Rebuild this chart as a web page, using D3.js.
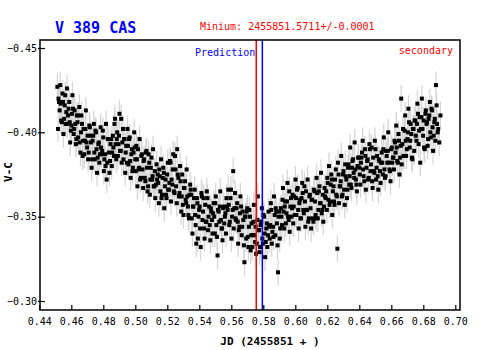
<!DOCTYPE html>
<html>
<head>
<meta charset="utf-8">
<script src="https://cdn.jsdelivr.net/npm/d3@7"></script>
<style>
  body { margin: 0; background: #fff; }
  svg { display: block; font-family: "DejaVu Sans Mono", monospace; }
</style>
</head>
<body>
<svg width="500" height="350"></svg>
<script>
// observations: JD - 2455851 and V-C
const jd = [
  0.4513,0.4520,0.4527,0.4534,0.4541,0.4548,0.4555,0.4562,0.4569,0.4576,
  0.4583,0.4590,0.4597,0.4604,0.4611,0.4618,0.4625,0.4632,0.4639,0.4646,
  0.4653,0.4660,0.4667,0.4674,0.4681,0.4688,0.4695,0.4702,0.4709,0.4716,
  0.4723,0.4730,0.4737,0.4744,0.4751,0.4758,0.4765,0.4772,0.4779,0.4786,
  0.4793,0.4800,0.4807,0.4814,0.4821,0.4828,0.4835,0.4842,0.4849,0.4856,
  0.4863,0.4870,0.4877,0.4884,0.4891,0.4898,0.4905,0.4912,0.4919,0.4926,
  0.4933,0.4940,0.4947,0.4954,0.4961,0.4968,0.4975,0.4982,0.4989,0.4996,
  0.5003,0.5010,0.5017,0.5024,0.5031,0.5038,0.5045,0.5052,0.5059,0.5066,
  0.5073,0.5080,0.5087,0.5094,0.5101,0.5108,0.5115,0.5122,0.5129,0.5136,
  0.5143,0.5150,0.5157,0.5164,0.5171,0.5178,0.5185,0.5192,0.5199,0.5206,
  0.5213,0.5220,0.5227,0.5234,0.5241,0.5248,0.5255,0.5262,0.5269,0.5276,
  0.5283,0.5290,0.5297,0.5304,0.5311,0.5318,0.5325,0.5332,0.5339,0.5346,
  0.5353,0.5360,0.5367,0.5374,0.5381,0.5388,0.5395,0.5402,0.5409,0.5416,
  0.5423,0.5430,0.5437,0.5444,0.5451,0.5458,0.5465,0.5472,0.5479,0.5486,
  0.5493,0.5500,0.5507,0.5514,0.5521,0.5528,0.5535,0.5542,0.5549,0.5556,
  0.5563,0.5570,0.5577,0.5584,0.5591,0.5598,0.5605,0.5612,0.5619,0.5626,
  0.5633,0.5640,0.5647,0.5654,0.5661,0.5668,0.5675,0.5682,0.5689,0.5696,
  0.5703,0.5710,0.5717,0.5724,0.5731,0.5738,0.5745,0.5752,0.5759,0.5766,
  0.5773,0.5780,0.5787,0.5794,0.5801,0.5808,0.5815,0.5822,0.5829,0.5836,
  0.5843,0.5850,0.5857,0.5864,0.5871,0.5878,0.5885,0.5892,0.5899,0.5906,
  0.5913,0.5920,0.5927,0.5934,0.5941,0.5948,0.5955,0.5962,0.5969,0.5976,
  0.5983,0.5990,0.5997,0.6004,0.6011,0.6018,0.6025,0.6032,0.6039,0.6046,
  0.6053,0.6060,0.6067,0.6074,0.6081,0.6088,0.6095,0.6102,0.6109,0.6116,
  0.6123,0.6130,0.6137,0.6144,0.6151,0.6158,0.6165,0.6172,0.6179,0.6186,
  0.6193,0.6200,0.6207,0.6214,0.6221,0.6228,0.6235,0.6242,0.6249,0.6256,
  0.6263,0.6270,0.6277,0.6284,0.6291,0.6298,0.6305,0.6312,0.6319,0.6326,
  0.6333,0.6340,0.6347,0.6354,0.6361,0.6368,0.6375,0.6382,0.6389,0.6396,
  0.6403,0.6410,0.6417,0.6424,0.6431,0.6438,0.6445,0.6452,0.6459,0.6466,
  0.6473,0.6480,0.6487,0.6494,0.6501,0.6508,0.6515,0.6522,0.6529,0.6536,
  0.6543,0.6550,0.6557,0.6564,0.6571,0.6578,0.6585,0.6592,0.6599,0.6606,
  0.6613,0.6620,0.6627,0.6634,0.6641,0.6648,0.6655,0.6662,0.6669,0.6676,
  0.6683,0.6690,0.6697,0.6704,0.6711,0.6718,0.6725,0.6732,0.6739,0.6746,
  0.6753,0.6760,0.6767,0.6774,0.6781,0.6788,0.6795,0.6802,0.6809,0.6816,
  0.6823,0.6830,0.6837,0.6844,0.6851,0.6858,0.6865,0.6872,0.6879,0.6886,
  0.6893,0.6900,0.6907
];
const vc = [
  -0.427,-0.420,-0.413,-0.417,-0.406,-0.418,-0.408,-0.422,-0.412,-0.405,
  -0.414,-0.406,-0.401,-0.411,-0.414,-0.402,-0.405,-0.396,-0.406,-0.410,
  -0.394,-0.400,-0.405,-0.395,-0.387,-0.402,-0.394,-0.398,-0.388,-0.403,
  -0.394,-0.384,-0.398,-0.388,-0.401,-0.390,-0.385,-0.394,-0.387,-0.391,
  -0.389,-0.397,-0.384,-0.380,-0.372,-0.396,-0.388,-0.383,-0.396,-0.388,
  -0.391,-0.405,-0.393,-0.396,-0.386,-0.398,-0.389,-0.408,-0.394,-0.384,
  -0.396,-0.388,-0.382,-0.392,-0.396,-0.383,-0.387,-0.377,-0.388,-0.391,
  -0.377,-0.384,-0.390,-0.379,-0.372,-0.386,-0.378,-0.383,-0.373,-0.388,
  -0.379,-0.368,-0.382,-0.372,-0.385,-0.374,-0.368,-0.377,-0.369,-0.372,
  -0.370,-0.378,-0.365,-0.361,-0.373,-0.376,-0.368,-0.363,-0.375,-0.366,
  -0.370,-0.382,-0.372,-0.378,-0.365,-0.386,-0.368,-0.390,-0.373,-0.364,
  -0.371,-0.362,-0.357,-0.367,-0.371,-0.358,-0.362,-0.351,-0.363,-0.366,
  -0.349,-0.356,-0.361,-0.351,-0.334,-0.358,-0.350,-0.356,-0.332,-0.362,
  -0.353,-0.343,-0.357,-0.347,-0.361,-0.350,-0.345,-0.355,-0.348,-0.352,
  -0.350,-0.358,-0.345,-0.327,-0.353,-0.356,-0.348,-0.343,-0.355,-0.346,
  -0.352,-0.361,-0.354,-0.357,-0.347,-0.366,-0.350,-0.377,-0.355,-0.349,
  -0.355,-0.347,-0.342,-0.352,-0.356,-0.344,-0.348,-0.323,-0.350,-0.353,
  -0.338,-0.344,-0.350,-0.339,-0.332,-0.347,-0.339,-0.344,-0.334,-0.362,
  -0.342,-0.332,-0.347,-0.337,-0.351,-0.340,-0.335,-0.346,-0.339,-0.344,
  -0.345,-0.354,-0.341,-0.338,-0.351,-0.355,-0.346,-0.317,-0.353,-0.343,
  -0.350,-0.360,-0.353,-0.356,-0.346,-0.359,-0.350,-0.365,-0.356,-0.350,
  -0.363,-0.356,-0.351,-0.361,-0.366,-0.354,-0.358,-0.349,-0.361,-0.364,
  -0.352,-0.359,-0.365,-0.354,-0.347,-0.362,-0.355,-0.360,-0.349,-0.366,
  -0.359,-0.349,-0.364,-0.354,-0.368,-0.358,-0.352,-0.363,-0.356,-0.362,
  -0.365,-0.373,-0.360,-0.357,-0.369,-0.372,-0.365,-0.359,-0.372,-0.363,
  -0.331,-0.375,-0.368,-0.371,-0.362,-0.375,-0.366,-0.381,-0.372,-0.366,
  -0.381,-0.374,-0.369,-0.379,-0.384,-0.373,-0.378,-0.369,-0.380,-0.385,
  -0.375,-0.382,-0.388,-0.378,-0.371,-0.386,-0.379,-0.384,-0.373,-0.390,
  -0.381,-0.371,-0.385,-0.376,-0.390,-0.379,-0.374,-0.384,-0.377,-0.382,
  -0.382,-0.390,-0.378,-0.374,-0.386,-0.389,-0.382,-0.377,-0.390,-0.382,
  -0.385,-0.395,-0.388,-0.391,-0.382,-0.395,-0.385,-0.420,-0.393,-0.386,
  -0.401,-0.395,-0.390,-0.400,-0.406,-0.395,-0.399,-0.384,-0.402,-0.407,
  -0.398,-0.405,-0.411,-0.401,-0.382,-0.409,-0.402,-0.407,-0.390,-0.413,
  -0.406,-0.396,-0.410,-0.400,-0.414,-0.403,-0.398,-0.408,-0.428,-0.405,
  -0.402,-0.394,-0.410
];
// second, interleaved set of frames
const jd2 = [
  0.4517,0.4523,0.4531,0.4537,0.4545,0.4551,0.4559,0.4565,0.4573,0.4580,
  0.4587,0.4593,0.4601,0.4607,0.4615,0.4621,0.4629,0.4635,0.4643,0.4650,
  0.4657,0.4663,0.4671,0.4677,0.4685,0.4691,0.4699,0.4705,0.4713,0.4720,
  0.4727,0.4733,0.4741,0.4747,0.4755,0.4761,0.4769,0.4775,0.4783,0.4790,
  0.4797,0.4803,0.4811,0.4817,0.4825,0.4831,0.4839,0.4845,0.4853,0.4860,
  0.4867,0.4873,0.4881,0.4887,0.4895,0.4901,0.4909,0.4915,0.4923,0.4930,
  0.4937,0.4943,0.4951,0.4957,0.4965,0.4971,0.4979,0.4985,0.4993,0.5000,
  0.5007,0.5013,0.5021,0.5027,0.5035,0.5041,0.5049,0.5055,0.5063,0.5070,
  0.5077,0.5083,0.5091,0.5097,0.5105,0.5111,0.5119,0.5125,0.5133,0.5140,
  0.5147,0.5153,0.5161,0.5167,0.5175,0.5181,0.5189,0.5195,0.5203,0.5210,
  0.5217,0.5223,0.5231,0.5237,0.5245,0.5251,0.5259,0.5265,0.5273,0.5280,
  0.5287,0.5293,0.5301,0.5307,0.5315,0.5321,0.5329,0.5335,0.5343,0.5350,
  0.5357,0.5363,0.5371,0.5377,0.5385,0.5391,0.5399,0.5405,0.5413,0.5420,
  0.5427,0.5433,0.5441,0.5447,0.5455,0.5461,0.5469,0.5475,0.5483,0.5490,
  0.5497,0.5503,0.5511,0.5517,0.5525,0.5531,0.5539,0.5545,0.5553,0.5560,
  0.5567,0.5573,0.5581,0.5587,0.5595,0.5601,0.5609,0.5615,0.5623,0.5630,
  0.5637,0.5643,0.5651,0.5657,0.5665,0.5671,0.5679,0.5685,0.5693,0.5700,
  0.5707,0.5713,0.5721,0.5727,0.5735,0.5741,0.5749,0.5755,0.5763,0.5770,
  0.5777,0.5783,0.5791,0.5797,0.5805,0.5811,0.5819,0.5825,0.5833,0.5840,
  0.5847,0.5853,0.5861,0.5867,0.5875,0.5881,0.5889,0.5895,0.5903,0.5910,
  0.5917,0.5923,0.5931,0.5937,0.5945,0.5951,0.5959,0.5965,0.5973,0.5980,
  0.5987,0.5993,0.6001,0.6007,0.6015,0.6021,0.6029,0.6035,0.6043,0.6050,
  0.6057,0.6063,0.6071,0.6077,0.6085,0.6091,0.6099,0.6105,0.6113,0.6120,
  0.6127,0.6133,0.6141,0.6147,0.6155,0.6161,0.6169,0.6175,0.6183,0.6190,
  0.6197,0.6203,0.6211,0.6217,0.6225,0.6231,0.6239,0.6245,0.6253,0.6260,
  0.6267,0.6273,0.6281,0.6287,0.6295,0.6301,0.6309,0.6315,0.6323,0.6330,
  0.6337,0.6343,0.6351,0.6357,0.6365,0.6371,0.6379,0.6385,0.6393,0.6400,
  0.6407,0.6413,0.6421,0.6427,0.6435,0.6441,0.6449,0.6455,0.6463,0.6470,
  0.6477,0.6483,0.6491,0.6497,0.6505,0.6511,0.6519,0.6525,0.6533,0.6540,
  0.6547,0.6553,0.6561,0.6567,0.6575,0.6581,0.6589,0.6595,0.6603,0.6610,
  0.6617,0.6623,0.6631,0.6637,0.6645,0.6651,0.6659,0.6665,0.6673,0.6680,
  0.6687,0.6693,0.6701,0.6707,0.6715,0.6721,0.6729,0.6735,0.6743,0.6750,
  0.6757,0.6763,0.6771,0.6777,0.6785,0.6791,0.6799,0.6805,0.6813,0.6820,
  0.6827,0.6833,0.6841,0.6847,0.6855,0.6861,0.6869,0.6875,0.6883,0.6890
];
const vc2 = [
  -0.402,-0.418,-0.428,-0.407,-0.423,-0.399,-0.416,-0.405,-0.426,-0.410,
  -0.418,-0.394,-0.404,-0.422,-0.399,-0.413,-0.393,-0.410,-0.397,-0.415,
  -0.388,-0.410,-0.386,-0.402,-0.395,-0.413,-0.391,-0.384,-0.404,-0.398,
  -0.379,-0.395,-0.405,-0.384,-0.400,-0.376,-0.393,-0.382,-0.403,-0.387,
  -0.401,-0.377,-0.387,-0.405,-0.382,-0.396,-0.376,-0.393,-0.380,-0.398,
  -0.386,-0.408,-0.384,-0.400,-0.393,-0.411,-0.389,-0.382,-0.402,-0.396,
  -0.376,-0.392,-0.402,-0.381,-0.397,-0.373,-0.390,-0.379,-0.400,-0.384,
  -0.392,-0.368,-0.378,-0.396,-0.373,-0.387,-0.367,-0.384,-0.371,-0.389,
  -0.365,-0.387,-0.363,-0.379,-0.372,-0.390,-0.368,-0.361,-0.381,-0.375,
  -0.358,-0.374,-0.384,-0.363,-0.379,-0.355,-0.372,-0.361,-0.382,-0.366,
  -0.383,-0.359,-0.369,-0.387,-0.364,-0.378,-0.358,-0.375,-0.362,-0.380,
  -0.353,-0.375,-0.351,-0.367,-0.360,-0.378,-0.356,-0.349,-0.369,-0.363,
  -0.340,-0.356,-0.366,-0.345,-0.361,-0.337,-0.354,-0.343,-0.364,-0.348,
  -0.361,-0.337,-0.347,-0.365,-0.342,-0.356,-0.336,-0.353,-0.340,-0.358,
  -0.340,-0.362,-0.338,-0.354,-0.347,-0.365,-0.343,-0.336,-0.356,-0.350,
  -0.340,-0.356,-0.366,-0.345,-0.361,-0.337,-0.354,-0.343,-0.364,-0.348,
  -0.358,-0.334,-0.344,-0.362,-0.339,-0.353,-0.333,-0.350,-0.337,-0.355,
  -0.332,-0.354,-0.330,-0.346,-0.339,-0.357,-0.335,-0.328,-0.348,-0.342,
  -0.329,-0.345,-0.355,-0.334,-0.350,-0.326,-0.343,-0.332,-0.353,-0.337,
  -0.358,-0.334,-0.344,-0.362,-0.339,-0.353,-0.333,-0.350,-0.337,-0.355,
  -0.345,-0.367,-0.343,-0.359,-0.352,-0.370,-0.348,-0.341,-0.361,-0.355,
  -0.346,-0.362,-0.372,-0.351,-0.367,-0.343,-0.360,-0.349,-0.370,-0.354,
  -0.368,-0.344,-0.354,-0.372,-0.349,-0.363,-0.343,-0.360,-0.347,-0.365,
  -0.351,-0.373,-0.349,-0.365,-0.358,-0.376,-0.354,-0.347,-0.367,-0.361,
  -0.354,-0.370,-0.380,-0.359,-0.375,-0.351,-0.368,-0.357,-0.378,-0.362,
  -0.382,-0.358,-0.368,-0.386,-0.363,-0.377,-0.357,-0.374,-0.361,-0.379,
  -0.369,-0.391,-0.367,-0.383,-0.376,-0.394,-0.372,-0.365,-0.385,-0.379,
  -0.369,-0.385,-0.395,-0.374,-0.390,-0.366,-0.383,-0.372,-0.393,-0.377,
  -0.391,-0.367,-0.377,-0.395,-0.372,-0.386,-0.366,-0.383,-0.370,-0.388,
  -0.375,-0.397,-0.373,-0.389,-0.382,-0.400,-0.378,-0.371,-0.391,-0.385,
  -0.378,-0.394,-0.404,-0.383,-0.399,-0.375,-0.392,-0.381,-0.402,-0.386,
  -0.410,-0.386,-0.396,-0.414,-0.391,-0.405,-0.385,-0.402,-0.389,-0.407,
  -0.395,-0.417,-0.393,-0.409,-0.402,-0.420,-0.398,-0.391,-0.411,-0.405,
  -0.392,-0.408,-0.418,-0.397,-0.413,-0.389,-0.406,-0.395,-0.416,-0.400
];
const errorBar = 0.008;

const xTicks = [0.44,0.46,0.48,0.50,0.52,0.54,0.56,0.58,0.60,0.62,0.64,0.66,0.68,0.70];
const yTicks = [-0.45,-0.40,-0.35,-0.30];

const minObserved = 0.5756;   // red line
const minPredicted = 0.5794;  // blue line

const svg = d3.select("svg");

const x = d3.scaleLinear().domain([0.44, 0.70]).range([39.3, 455.3]);
const y = d3.scaleLinear().domain([-0.45, -0.30]).range([48, 301]);

// title texts
svg.append("text")
  .attr("x", 55).attr("y", 33)
  .attr("fill", "#0000ff")
  .attr("font-size", 15).attr("font-weight", "bold")
  .text("V 389 CAS");

svg.append("text")
  .attr("x", 200).attr("y", 30)
  .attr("fill", "#ff0000")
  .attr("font-size", 10)
  .text("Minium: 2455851.5711+/-0.0001");

// data: gray error bars first, then the squares
const pts = jd.map((d, i) => ({ jd: d, vc: vc[i] }))
  .concat(jd2.map((d, i) => ({ jd: d, vc: vc2[i] })));

svg.append("g")
  .selectAll("line")
  .data(pts)
  .enter()
  .append("line")
  .attr("x1", (d) => x(d.jd))
  .attr("x2", (d) => x(d.jd))
  .attr("y1", (d) => y(d.vc - errorBar))
  .attr("y2", (d) => y(d.vc + errorBar))
  .attr("stroke", "#d4d4d4")
  .attr("stroke-width", 1.2);

svg.append("g")
  .selectAll("rect")
  .data(pts)
  .enter()
  .append("rect")
  .attr("x", (d) => x(d.jd) - 2)
  .attr("y", (d) => y(d.vc) - 2)
  .attr("width", 4)
  .attr("height", 4)
  .attr("fill", "#000");

// minimum lines
svg.append("line")
  .attr("x1", x(minObserved)).attr("x2", x(minObserved))
  .attr("y1", 40).attr("y2", 310)
  .attr("stroke", "#ff0000").attr("stroke-width", 1.5);

svg.append("line")
  .attr("x1", x(minPredicted)).attr("x2", x(minPredicted))
  .attr("y1", 40).attr("y2", 310)
  .attr("stroke", "#0000ff").attr("stroke-width", 1.5);

svg.append("text")
  .attr("x", x(minObserved) - 1).attr("y", 56)
  .attr("text-anchor", "end")
  .attr("fill", "#0000ff")
  .attr("font-size", 10)
  .text("Prediction");

svg.append("text")
  .attr("x", 453).attr("y", 53.5)
  .attr("text-anchor", "end")
  .attr("fill", "#ff0000")
  .attr("font-size", 10)
  .text("secondary");

// frame
svg.append("rect")
  .attr("x", 40).attr("y", 40)
  .attr("width", 420).attr("height", 270)
  .attr("fill", "none")
  .attr("stroke", "#000")
  .attr("stroke-width", 1.5);

// axes (ticks point inward, labels outside)
const xAxisG = svg.append("g")
  .attr("transform", "translate(0,310)")
  .call(d3.axisBottom(x).tickValues(xTicks).tickFormat(d3.format(".2f"))
    .tickSizeInner(-5).tickSizeOuter(0).tickPadding(7.4));
xAxisG.select(".domain").remove();
xAxisG.selectAll("text").attr("font-size", 10).attr("font-family", "DejaVu Sans Mono").attr("fill", "#000");
xAxisG.selectAll("line").attr("stroke-width", 1.2);

const yAxisG = svg.append("g")
  .attr("transform", "translate(40,0)")
  .call(d3.axisLeft(y).tickValues(yTicks).tickFormat(d3.format(".2f"))
    .tickSizeInner(2).tickSizeOuter(0).tickPadding(1));
yAxisG.select(".domain").remove();
yAxisG.selectAll("line").attr("x2", 5).attr("x1", -2).attr("stroke-width", 1.2);
yAxisG.selectAll("text").attr("font-size", 10).attr("font-family", "DejaVu Sans Mono").attr("fill", "#000")
  .text((d) => d3.format(".2f")(d).replace("-", "\u2212"));

// axis titles
svg.append("text")
  .attr("x", 270).attr("y", 345)
  .attr("text-anchor", "middle")
  .attr("font-size", 11).attr("font-weight", "bold")
  .text("JD (2455851 + )");

svg.append("text")
  .attr("transform", "translate(12,172) rotate(-90)")
  .attr("text-anchor", "middle")
  .attr("font-size", 11).attr("font-weight", "bold")
  .text("V-C");
</script>
</body>
</html>
